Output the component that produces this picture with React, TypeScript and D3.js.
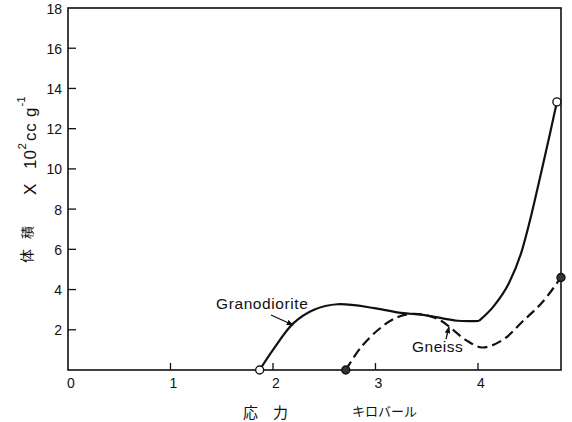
import React from "react";
import * as d3 from "d3";

// Stress (kilobar) vs. volume change data
const xTicks = [0, 1, 2, 3, 4];
const yTicks = [2, 4, 6, 8, 10, 12, 14, 16, 18];

// Granodiorite: rising branch up to the kink near 4 kbar, then the steep climb
const granoRiseX = [1.87, 2.0, 2.2, 2.4, 2.63, 2.99, 3.25, 3.48, 3.8, 4.01];
const granoRiseY = [0, 1.0, 2.33, 3.0, 3.27, 3.08, 2.84, 2.73, 2.45, 2.44];
const granoClimbX = [4.01, 4.15, 4.3, 4.42, 4.52, 4.62, 4.7, 4.77];
const granoClimbY = [2.44, 3.15, 4.3, 5.8, 7.7, 9.9, 11.7, 13.33];

// Gneiss (dashed)
const gneissX = [2.71, 2.86, 3.06, 3.22, 3.35, 3.5, 3.64, 3.76, 3.88, 4.04, 4.24, 4.43, 4.63, 4.81];
const gneissY = [0, 1.14, 2.14, 2.64, 2.79, 2.72, 2.45, 1.98, 1.5, 1.12, 1.49, 2.39, 3.38, 4.6];

const W = 572;
const H = 422;
const left = 68;
const right = 561;
const top = 8;
const bottom = 370;

const x = d3.scaleLinear().domain([0, 4.81]).range([left, right]);
const y = d3.scaleLinear().domain([0, 18]).range([bottom, top]);

const zip = (xs: number[], ys: number[]) => xs.map((v, i) => [v, ys[i]] as [number, number]);

const smooth = d3
  .line<[number, number]>()
  .x((d) => x(d[0]))
  .y((d) => y(d[1]))
  .curve(d3.curveCatmullRom.alpha(0.5));

const steep = d3
  .line<[number, number]>()
  .x((d) => x(d[0]))
  .y((d) => y(d[1]))
  .curve(d3.curveMonotoneX);

const font = "'Liberation Sans', 'DejaVu Sans', sans-serif";
const cjk = "'Noto Sans CJK JP', sans-serif";

export default function App() {
  const granoPath = (smooth(zip(granoRiseX, granoRiseY)) ?? "") + (steep(zip(granoClimbX, granoClimbY)) ?? "");
  const gneissPath = smooth(zip(gneissX, gneissY)) ?? "";
  const gStart = [granoRiseX[0], granoRiseY[0]];
  const gEnd = [granoClimbX[granoClimbX.length - 1], granoClimbY[granoClimbY.length - 1]];
  const nStart = [gneissX[0], gneissY[0]];
  const nEnd = [gneissX[gneissX.length - 1], gneissY[gneissY.length - 1]];

  return (
    <svg
      width={W}
      height={H}
      style={{ position: "absolute", left: 0, top: 0, background: "#fff" }}
      fontFamily={font}
    >
      <defs>
        <marker id="ah" viewBox="0 0 10 10" refX="9" refY="5" markerWidth="7" markerHeight="7" orient="auto" markerUnits="userSpaceOnUse">
          <path d="M0,1 L10,5 L0,9 Z" fill="#111" />
        </marker>
      </defs>

      {/* frame */}
      <rect x={left} y={top} width={right - left} height={bottom - top} fill="none" stroke="#111" strokeWidth={1.6} />

      {/* x ticks (inward) and labels */}
      {xTicks.map((t) => (
        <g key={"x" + t}>
          {t > 0 && <line x1={x(t)} x2={x(t)} y1={bottom} y2={bottom - 7} stroke="#111" strokeWidth={1.3} />}
          <text x={x(t) + 3} y={bottom + 18} fontSize={14} textAnchor="middle" fill="#111">
            {t}
          </text>
        </g>
      ))}

      {/* y ticks (inward) and labels */}
      {yTicks.map((t) => (
        <g key={"y" + t}>
          {t < 18 && <line x1={left} x2={left + 8} y1={y(t)} y2={y(t)} stroke="#111" strokeWidth={1.3} />}
          <text x={62} y={y(t) + 5.5} fontSize={14} textAnchor="end" fill="#111">
            {t}
          </text>
        </g>
      ))}

      {/* curves */}
      <path d={granoPath} fill="none" stroke="#111" strokeWidth={2.2} strokeLinejoin="miter" />
      <path d={gneissPath} fill="none" stroke="#111" strokeWidth={2.2} strokeDasharray="10 5" />

      {/* end markers */}
      <circle cx={x(gStart[0])} cy={y(gStart[1])} r={4} fill="#fff" stroke="#111" strokeWidth={1.4} />
      <circle cx={x(gEnd[0])} cy={y(gEnd[1])} r={4} fill="#fff" stroke="#111" strokeWidth={1.4} />
      <circle cx={x(nStart[0])} cy={y(nStart[1])} r={4} fill="#333" stroke="#111" strokeWidth={1.4} />
      <circle cx={x(nEnd[0])} cy={y(nEnd[1])} r={4} fill="#333" stroke="#111" strokeWidth={1.4} />

      {/* series labels */}
      <text x={216} y={309} fontSize={15.5} letterSpacing={0.6} fill="#111">Granodiorite</text>
      <line x1={271} y1={315} x2={293} y2={325} stroke="#111" strokeWidth={1.3} markerEnd="url(#ah)" />
      <text x={412} y={352} fontSize={15.5} letterSpacing={0.5} fill="#111">Gneiss</text>
      <line x1={446} y1={339} x2={449} y2={327} stroke="#111" strokeWidth={1.3} markerEnd="url(#ah)" />

      {/* x axis title */}
      <text x={243} y={418} fontSize={15} fontFamily={cjk} fill="#111">応　力</text>
      <text x={352} y={416} fontSize={13} fontFamily={cjk} fill="#111">キロバール</text>

      {/* y axis title, reading bottom to top */}
      <g transform="translate(36,263) rotate(-90)" fill="#111">
        <text x={0} y={-4} fontFamily={cjk} fontSize={14}>体</text>
        <text x={24} y={-4} fontFamily={cjk} fontSize={13}>積</text>
        <text x={68} y={0} fontSize={17}>X</text>
        <text x={94} y={0} fontSize={17}>10</text>
        <text x={113.5} y={-10} fontSize={11.5}>2</text>
        <text x={122} y={0} fontSize={17} letterSpacing={0.8}>cc</text>
        <text x={146} y={0} fontSize={17}>g</text>
        <text x={156.5} y={-11} fontSize={11.5}>-1</text>
      </g>
    </svg>
  );
}
